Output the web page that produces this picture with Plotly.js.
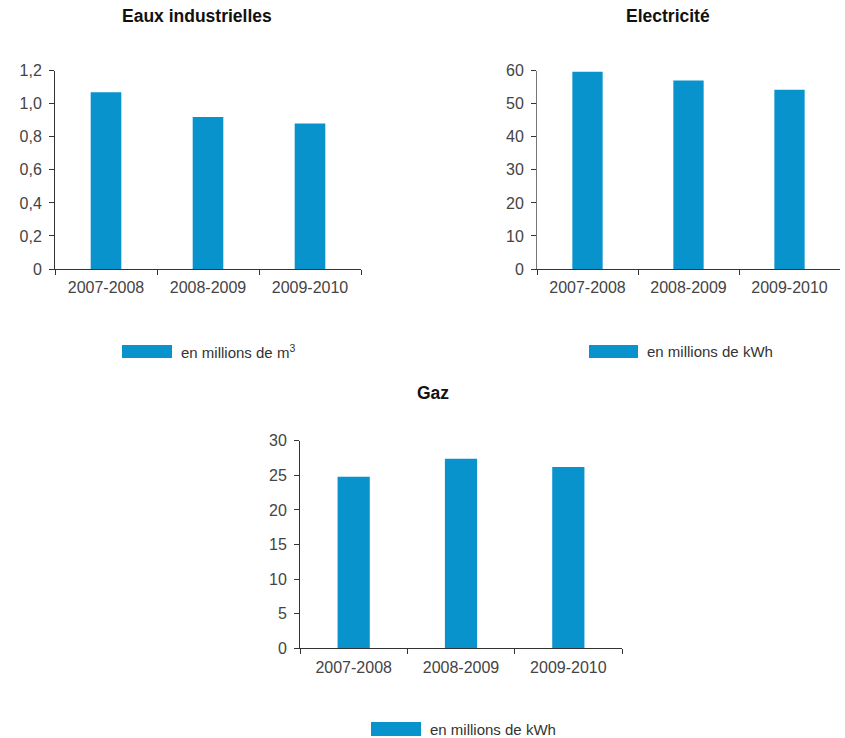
<!DOCTYPE html>
<html>
<head>
<meta charset="utf-8">
<script src="https://cdn.plot.ly/plotly-3.0.1.min.js"></script>
<style>html,body{margin:0;padding:0;background:#fff;}#chart{width:845px;height:738px;}</style>
</head>
<body>
<div id="chart"></div>
<script>
var categories = ['2007-2008', '2008-2009', '2009-2010'];
var eauxValues = [1.07, 0.92, 0.88];
var electriciteValues = [59.7, 57.0, 54.2];
var gazValues = [24.8, 27.4, 26.2];

var eauxTickVals = [0, 0.2, 0.4, 0.6, 0.8, 1.0, 1.2];
var eauxTickText = ['0', '0,2', '0,4', '0,6', '0,8', '1,0', '1,2'];
var elecTickVals = [0, 10, 20, 30, 40, 50, 60];
var gazTickVals = [0, 5, 10, 15, 20, 25, 30];

var titles = ['Eaux industrielles', 'Electricité', 'Gaz'];
var legendTexts = ['en millions de m<sup>3</sup>', 'en millions de kWh', 'en millions de kWh'];

var W = 845, H = 738;
function px(x) { return x / W; }
function py(y) { return 1 - y / H; }

var barColor = '#0893cd';
var font = 'Liberation Sans, Arial, Helvetica, sans-serif';

var traces = [
  {type: 'bar', x: categories, y: eauxValues, xaxis: 'x', yaxis: 'y', marker: {color: barColor}, width: 0.3, showlegend: false},
  {type: 'bar', x: categories, y: electriciteValues, xaxis: 'x2', yaxis: 'y2', marker: {color: barColor}, width: 0.3, showlegend: false},
  {type: 'bar', x: categories, y: gazValues, xaxis: 'x3', yaxis: 'y3', marker: {color: barColor}, width: 0.3, showlegend: false}
];

function xaxisDef(x0, x1, anchor) {
  return {
    domain: [px(x0), px(x1)], anchor: anchor, type: 'category', range: [-0.5, 2.5],
    showline: true, linecolor: '#333', linewidth: 1, ticks: 'outside', tickson: 'boundaries',
    ticklen: 5, tickcolor: '#333', showgrid: false, zeroline: false, fixedrange: true,
    ticklabelstandoff: 4,
    tickfont: {family: font, size: 16, color: '#444'}, automargin: false
  };
}
function yaxisDef(y0, y1, anchor, range, vals, text, lc) {
  return {
    domain: [py(y0), py(y1)], anchor: anchor, range: range, tickmode: 'array', tickvals: vals, ticktext: text,
    showline: true, linecolor: lc, linewidth: 1, ticks: 'outside', ticklen: 5, tickcolor: '#333',
    showgrid: false, zeroline: false, fixedrange: true, ticklabelstandoff: 4,
    tickfont: {family: font, size: 16, color: '#444'}, automargin: false
  };
}

var layout = {
  width: W, height: H,
  margin: {l: 0, r: 0, t: 0, b: 0},
  paper_bgcolor: '#fff', plot_bgcolor: '#fff',
  showlegend: false,
  xaxis: xaxisDef(55, 361, 'y'),
  yaxis: yaxisDef(269, 70.7, 'x', [0, 1.2], eauxTickVals, eauxTickText, '#333'),
  xaxis2: xaxisDef(537, 840, 'y2'),
  yaxis2: yaxisDef(269, 70.7, 'x2', [0, 60], elecTickVals, elecTickVals.map(String), '#777'),
  xaxis3: xaxisDef(300, 622, 'y3'),
  yaxis3: yaxisDef(648.3, 440.7, 'x3', [0, 30], gazTickVals, gazTickVals.map(String), '#333'),
  annotations: [
    {text: '<b>' + titles[0] + '</b>', x: px(197), y: py(16), xref: 'paper', yref: 'paper', xanchor: 'center', yanchor: 'middle', showarrow: false, font: {family: font, size: 17.5, color: '#111'}},
    {text: '<b>' + titles[1] + '</b>', x: px(668), y: py(16), xref: 'paper', yref: 'paper', xanchor: 'center', yanchor: 'middle', showarrow: false, font: {family: font, size: 17.5, color: '#111'}},
    {text: '<b>' + titles[2] + '</b>', x: px(433), y: py(393), xref: 'paper', yref: 'paper', xanchor: 'center', yanchor: 'middle', showarrow: false, font: {family: font, size: 17.5, color: '#111'}},
    {text: legendTexts[0], x: px(179), y: py(352), xref: 'paper', yref: 'paper', xanchor: 'left', yanchor: 'middle', showarrow: false, font: {family: font, size: 15, color: '#333'}},
    {text: legendTexts[1], x: px(645), y: py(352), xref: 'paper', yref: 'paper', xanchor: 'left', yanchor: 'middle', showarrow: false, font: {family: font, size: 15, color: '#333'}},
    {text: legendTexts[2], x: px(428), y: py(729), xref: 'paper', yref: 'paper', xanchor: 'left', yanchor: 'middle', showarrow: false, font: {family: font, size: 15, color: '#333'}}
  ],
  shapes: [
    {type: 'rect', xref: 'paper', yref: 'paper', x0: px(122), x1: px(172), y0: py(345), y1: py(358), fillcolor: barColor, line: {width: 0}},
    {type: 'rect', xref: 'paper', yref: 'paper', x0: px(589), x1: px(638), y0: py(345), y1: py(358), fillcolor: barColor, line: {width: 0}},
    {type: 'rect', xref: 'paper', yref: 'paper', x0: px(371), x1: px(421), y0: py(722), y1: py(736), fillcolor: barColor, line: {width: 0}}
  ]
};

Plotly.newPlot('chart', traces, layout, {displayModeBar: false, staticPlot: true});
</script>
</body>
</html>
